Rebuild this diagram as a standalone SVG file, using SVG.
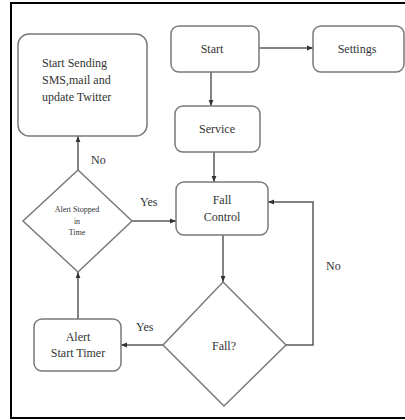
<svg xmlns="http://www.w3.org/2000/svg" width="405" height="420" viewBox="0 0 405 420">
<style>
.box{fill:#fff;stroke:#7a7a7a;stroke-width:1.5}
.con{fill:none;stroke:#5a5a5a;stroke-width:1.5}
.t{font-family:Liberation Serif, serif;fill:#333;font-size:12px}
.c{text-anchor:middle}
.s{font-size:8px}
</style>
<defs>
<marker id="ah" viewBox="0 0 10 10" refX="10" refY="5" markerWidth="6" markerHeight="6" orient="auto" markerUnits="userSpaceOnUse">
<path d="M0,1 L10,5 L0,9 Z" fill="#333"/>
</marker>
</defs>
<rect x="0" y="0" width="405" height="420" fill="#fff"/>
<rect x="11" y="3" width="402" height="415" fill="none" stroke="#000" stroke-width="2"/>
<g id="connectors">
<path class="con" d="M259,48 H313" marker-end="url(#ah)"/>
<path class="con" d="M211,72 V106" marker-end="url(#ah)"/>
<path class="con" d="M214,152 V182" marker-end="url(#ah)"/>
<path class="con" d="M223,235 V282" marker-end="url(#ah)"/>
<path class="con" d="M286,345 H313 V202 H268" marker-end="url(#ah)"/>
<path class="con" d="M163,345 H121" marker-end="url(#ah)"/>
<path class="con" d="M78,319 V272" marker-end="url(#ah)"/>
<path class="con" d="M132,221 H176" marker-end="url(#ah)"/>
<path class="con" d="M78,170 V136" marker-end="url(#ah)"/>
<text class="t" font-family="Liberation Serif" x="326" y="270">No</text>
<text class="t" font-family="Liberation Serif" x="136" y="331">Yes</text>
<text class="t" font-family="Liberation Serif" x="140" y="206">Yes</text>
<text class="t" font-family="Liberation Serif" x="91" y="164">No</text>
</g>
<g id="sms">
<rect class="box" x="18" y="34" width="129" height="102" rx="11"/>
<text class="t" font-family="Liberation Serif" x="42" y="67">Start Sending</text>
<text class="t" font-family="Liberation Serif" x="42" y="84">SMS,mail and</text>
<text class="t" font-family="Liberation Serif" x="42" y="101">update Twitter</text>
</g>
<g id="start">
<rect class="box" x="171" y="26" width="88" height="46" rx="8"/>
<text class="t c" font-family="Liberation Serif" x="212" y="53">Start</text>
</g>
<g id="settings">
<rect class="box" x="313" y="26" width="91" height="46" rx="8"/>
<text class="t c" font-family="Liberation Serif" x="357" y="53">Settings</text>
</g>
<g id="service">
<rect class="box" x="175" y="106" width="85" height="46" rx="8"/>
<text class="t c" font-family="Liberation Serif" x="217" y="133">Service</text>
</g>
<g id="fallcontrol">
<rect class="box" x="176" y="182" width="92" height="53" rx="8"/>
<text class="t c" font-family="Liberation Serif" x="222" y="204">Fall</text>
<text class="t c" font-family="Liberation Serif" x="222" y="221">Control</text>
</g>
<g id="fall">
<polygon class="box" points="223,282 286,345 224,406 163,345"/>
<text class="t c" font-family="Liberation Serif" x="224" y="350">Fall?</text>
</g>
<g id="alerttimer">
<rect class="box" x="34" y="319" width="87" height="52" rx="8"/>
<text class="t c" font-family="Liberation Serif" x="78" y="341">Alert</text>
<text class="t c" font-family="Liberation Serif" x="78" y="357">Start Timer</text>
</g>
<g id="alertstopped">
<polygon class="box" points="78,170 132,221 78,272 23,221"/>
<text class="t c s" font-family="Liberation Serif" x="77" y="212">Alert Stopped</text>
<text class="t c s" font-family="Liberation Serif" x="77" y="224">in</text>
<text class="t c s" font-family="Liberation Serif" x="77" y="235">Time</text>
</g>
</svg>
